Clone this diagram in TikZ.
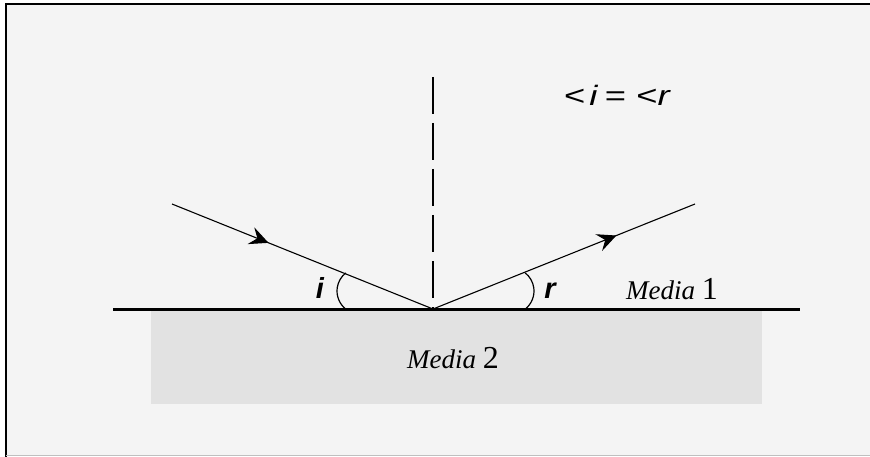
\documentclass[tikz,border=0pt]{standalone}
\usepackage{fontspec}
\usepackage{graphicx}
\setmainfont{Liberation Serif}
\setsansfont{Liberation Sans}
\usetikzlibrary{arrows.meta,decorations.markings,calc}
\definecolor{bgc}{HTML}{F4F4F4}
\definecolor{mediumc}{HTML}{E2E2E2}
\begin{document}
\begin{tikzpicture}[x=1pt,y=-1pt,
  ray/.style={line width=1.1pt},
  rayarrow/.style={postaction={decorate},decoration={markings,
     mark=at position #1 with {\arrow{Stealth[length=19pt,width=18pt,inset=7pt]}}}},
  medialabel/.style={anchor=base west,inner sep=0pt,font=\fontsize{27}{30}\selectfont\itshape},
  anglelabel/.style={anchor=base,inner sep=0pt,font=\sffamily\bfseries\itshape\fontsize{29}{32}\selectfont},
  normalline/.style={line width=1.4pt,dash pattern=on 37pt off 9pt}]
\useasboundingbox (0,0) rectangle (870,457);
\fill[white] (0,0) rectangle (870,457);
\fill[bgc] (6,4) rectangle (870,455);
\draw[line width=2pt] (6,457) -- (6,4) -- (870,4);
\draw[black!25,line width=1.5pt] (6,455.5) -- (870,455.5);
\fill[mediumc] (151,310) rectangle (762,404);
% points
\coordinate (O) at (433,309);
\coordinate (A) at (172,204);
\coordinate (B) at (695,204);
\coordinate (L) at (113,309);
\coordinate (R) at (800,309);
\coordinate (N) at (433,77);
\coordinate (ci) at (360,291);
\coordinate (cr) at (511,291);
% normal
\draw[normalline] (N) -- (O);
% rays
\draw[ray,rayarrow=0.37] (A) -- (O);
\draw[ray,rayarrow=0.70] (O) -- (B);
% surface
\draw[line width=3pt] (L) -- (R);
% angle arcs
\draw[line width=1.2pt] ($(ci)+(128:23)$) arc[start angle=128,end angle=232,radius=23];
\draw[line width=1.2pt] ($(cr)+(52:23)$) arc[start angle=52,end angle=-52,radius=23];
% labels
\node[anglelabel] (li) at (320,298) {i};
\node[anglelabel] (lr) at (550,298) {r};
\node[medialabel] (m1) at (626,299) {Media {\upshape\fontsize{32}{34}\selectfont 1}};
\node[medialabel] (m2) at (407,368) {Media {\upshape\fontsize{32}{34}\selectfont 2}};
\node[anchor=base west,inner sep=0pt,font=\sffamily\fontsize{28}{30}\selectfont] (eq) at (564,106) {\scalebox{1.3}[1]{<\hspace{3pt}\textit{i}\hspace{5pt}=\hspace{8pt}<\textit{r}}};
\end{tikzpicture}
\end{document}
